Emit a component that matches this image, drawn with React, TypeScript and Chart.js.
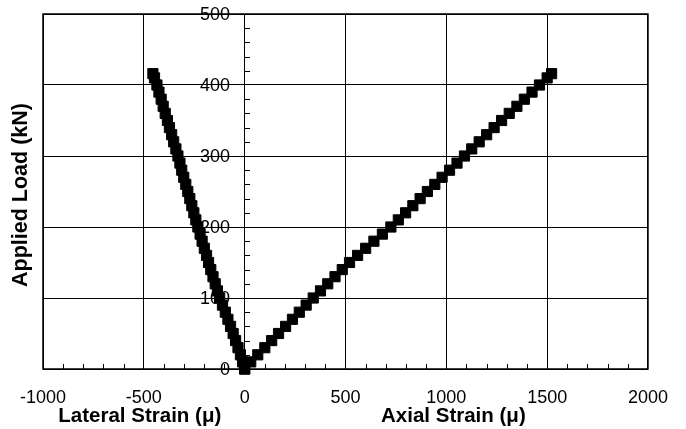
import React, { useEffect, useRef } from "react";
import { Chart, registerables } from "chart.js";

Chart.register(...registerables);

// Applied load (kN) at each reading
const loads = [
  0, 10, 20, 30, 40, 50, 60, 70, 80, 90, 100, 110, 120, 130, 140, 150, 160, 170, 180, 190, 200,
  210, 220, 230, 240, 250, 260, 270, 280, 290, 300, 310, 320, 330, 340, 350, 360, 370, 380, 390,
  400, 410, 416,
];

// Axial strain (μ)
const axialStrain = [
  0, 30, 65, 100, 134, 168, 203, 237, 271, 305, 340, 376, 412, 448, 484, 520, 560, 600, 641, 683,
  725, 762, 798, 834, 870, 906, 943, 979, 1016, 1053, 1090, 1126, 1163, 1200, 1237, 1274, 1312,
  1350, 1387, 1425, 1462, 1500, 1522,
];

// Lateral strain (μ)
const lateralStrain = [
  0, -10, -21, -33, -45, -57, -70, -83, -96, -110, -124, -135, -146, -157, -168, -179, -189, -200,
  -211, -221, -232, -242, -252, -262, -272, -282, -292, -302, -312, -321, -331, -341, -352, -362,
  -373, -383, -394, -404, -414, -425, -435, -447, -455,
];

const xRange = [-1000, 2000];
const xStep = 500;
const xMinorStep = 100;
const yRange = [0, 500];
const yStep = 100;
const yMinorStep = 20;

const yTitle = "Applied Load (kN)";
const lateralTitle = "Lateral Strain (μ)";
const axialTitle = "Axial Strain (μ)";
const lateralTitleAt = -520;
const axialTitleAt = 1035;

const FONT = '"Liberation Sans", Arial, sans-serif';

const decoPlugin = {
  id: "deco",
  beforeDatasetsDraw(chart: any) {
    const { ctx, chartArea: a, scales } = chart;
    const x = scales.x;
    const y = scales.y;
    ctx.save();
    ctx.strokeStyle = "#000";
    ctx.lineWidth = 1;
    ctx.beginPath();
    const x0 = Math.round(x.getPixelForValue(0));
    for (let v = yRange[0] + yMinorStep; v < yRange[1]; v += yMinorStep) {
      if (v % yStep === 0) continue;
      const py = Math.round(y.getPixelForValue(v)) + 0.5;
      ctx.moveTo(x0, py);
      ctx.lineTo(x0 + 5, py);
    }
    for (let v = xRange[0] + xMinorStep; v < xRange[1]; v += xMinorStep) {
      if (v % xStep === 0) continue;
      const px = Math.round(x.getPixelForValue(v)) + 0.5;
      ctx.moveTo(px, a.bottom);
      ctx.lineTo(px, a.bottom - 5);
    }
    ctx.stroke();
    ctx.lineWidth = 1.5;
    ctx.strokeRect(a.left, a.top, a.right - a.left, a.bottom - a.top);

    // y tick labels, left of the x = 0 axis
    ctx.fillStyle = "#000";
    ctx.font = `18px ${FONT}`;
    ctx.textAlign = "right";
    ctx.textBaseline = "middle";
    y.ticks.forEach((t: any) => {
      ctx.fillText(String(t.value), x0 - 15, y.getPixelForValue(t.value) + 1);
    });
    ctx.restore();
  },
  afterDraw(chart: any) {
    const { ctx, scales } = chart;
    const x = scales.x;
    ctx.save();
    ctx.fillStyle = "#000";
    ctx.font = `bold 20.5px ${FONT}`;
    ctx.textAlign = "center";
    ctx.textBaseline = "alphabetic";
    ctx.fillText(lateralTitle, x.getPixelForValue(lateralTitleAt), 422);
    ctx.fillText(axialTitle, x.getPixelForValue(axialTitleAt), 422);
    ctx.translate(21, 195);
    ctx.rotate(-Math.PI / 2);
    ctx.font = `bold 21.5px ${FONT}`;
    ctx.textBaseline = "middle";
    ctx.fillText(yTitle, 0, 0);
    ctx.restore();
  },
};

export default function App() {
  const ref = useRef<HTMLCanvasElement | null>(null);
  useEffect(() => {
    if (!ref.current) return;
    const toPts = (xs: number[]) => xs.map((v, i) => ({ x: v, y: loads[i] }));
    const pointStyle = {
      showLine: false,
      pointStyle: "rect" as const,
      pointRadius: 7.2,
      pointBorderWidth: 1,
      backgroundColor: "#000",
      borderColor: "#000",
      clip: false as any,
    };
    const chart = new Chart(ref.current, {
      type: "scatter",
      data: {
        datasets: [
          { label: "Axial", data: toPts(axialStrain), ...pointStyle },
          { label: "Lateral", data: toPts(lateralStrain), ...pointStyle },
        ],
      },
      options: {
        animation: false,
        responsive: false,
        maintainAspectRatio: false,
        layout: { padding: { left: 43, right: 36, top: 14, bottom: 0 } },
        plugins: { legend: { display: false }, tooltip: { enabled: false } },
        scales: {
          x: {
            type: "linear",
            position: "bottom",
            min: xRange[0],
            max: xRange[1],
            afterFit: (s: any) => {
              s.height = 60;
            },
            ticks: {
              stepSize: xStep,
              color: "#000",
              padding: 18,
              font: { family: FONT, size: 18 },
              maxRotation: 0,
              callback: (v: any) => String(v),
            },
            grid: { color: "#000", lineWidth: 1, drawTicks: false },
            border: { display: false },
          },
          y: {
            type: "linear",
            position: { x: 0 } as any,
            min: yRange[0],
            max: yRange[1],
            ticks: { stepSize: yStep, display: false },
            grid: { color: "#000", lineWidth: 1, drawTicks: false },
            border: { display: true, color: "#000", width: 1 },
          },
        },
      },
      plugins: [decoPlugin],
    });
    return () => chart.destroy();
  }, []);
  return (
    <div style={{ position: "fixed", left: 0, top: 0, width: 686, height: 429, background: "#fff" }}>
      <canvas ref={ref} width={686} height={429} style={{ width: 686, height: 429 }} />
    </div>
  );
}
